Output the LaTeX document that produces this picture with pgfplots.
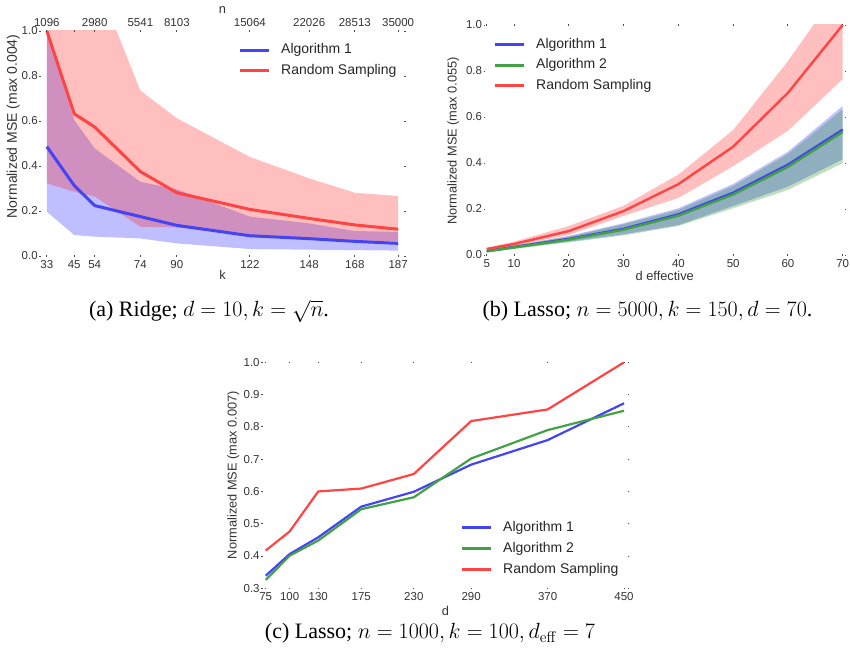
\RequirePackage{fix-cm}
\documentclass[border=0pt]{standalone}
\usepackage[no-math]{fontspec}
\setmainfont{Liberation Serif}
\setsansfont{Liberation Sans}
\usepackage{pgfplots}
\pgfplotsset{compat=1.18}
\definecolor{cR}{RGB}{255,68,68}
\definecolor{cB}{RGB}{68,68,245}
\definecolor{cG}{RGB}{68,160,68}
\pgfplotsset{
  sb/.style={
    scale only axis,
    anchor=south west,
    axis line style={draw=none},
    tick style={draw=black!70, line width=0.9pt},
    major tick length=1.2pt,
    tick align=center,
    tick pos=both,
    xticklabel pos=lower, yticklabel pos=left,
    ticklabel style={font=\fontsize{11.5}{13}\selectfont\sffamily, text=black!80},
    yticklabel style={inner xsep=1.5pt, /pgf/number format/fixed, /pgf/number format/fixed zerofill, /pgf/number format/precision=1},
    /pgf/number format/assume math mode=true,
    label style={font=\fontsize{12.8}{14}\selectfont\sffamily, text=black!80},
    legend cell align=left,
    legend image code/.code={\draw[##1, line width=3pt, line cap=butt] (0pt,0pt) -- (29pt,0pt);},
    legend style={draw=none, fill=none, inner sep=0pt, anchor=north west, font=\fontsize{14}{16}\selectfont\sffamily, text=black!85, row sep=7.2pt, column sep=11pt, nodes={inner sep=0pt, text height=10.5pt, text depth=3pt}},
  }
}
\begin{document}
\begin{tikzpicture}
\path[use as bounding box] (0,0) rectangle (850pt,660pt);
% ---------------- (a)
\begin{axis}[sb, at={(40pt,404pt)}, width=365pt, height=225pt,
  xmin=30, xmax=190, ymin=0, ymax=1,
  xtick={33,45,54,74,90,122,148,168,187}, ytick={0,0.2,0.4,0.6,0.8,1.0},
  xlabel={k}, xlabel style={at={(axis description cs:0.5,-0.0844)}, anchor=center},
  ylabel={Normalized MSE (max 0.004)}, ylabel style={at={(axis description cs:-0.0732,0.576)}, anchor=center, font=\fontsize{14}{16}\selectfont\sffamily},
  legend style={at={(axis description cs:0.5425,0.9456)}}]
\addplot[fill=blue, fill opacity=0.25, draw=none, forget plot] coordinates {
 (33,1.0)(45,0.604)(54,0.478)(74,0.33)(90,0.296)(122,0.175)(148,0.145)(168,0.111)(187,0.107)
 (187,0.024)(168,0.026)(148,0.028)(122,0.031)(90,0.056)(74,0.078)(54,0.086)(45,0.093)(33,0.197)} -- cycle;
\addplot[fill=red, fill opacity=0.25, draw=none, forget plot] coordinates {
 (33,2.0)(45,1.5)(54,1.244)(74,0.735)(90,0.612)(122,0.440)(148,0.345)(168,0.281)(187,0.267)
 (187,0.065)(168,0.07)(148,0.08)(122,0.092)(90,0.127)(74,0.13)(54,0.264)(45,0.286)(33,0.323)} -- cycle;
\addplot[cB, line width=3pt] coordinates {(33,0.486)(45,0.313)(54,0.224)(74,0.175)(90,0.136)(122,0.090)(148,0.077)(168,0.065)(187,0.056)};
\addlegendentry{Algorithm 1}
\addplot[cR, line width=3pt] coordinates {(33,1.0)(45,0.632)(54,0.573)(74,0.375)(90,0.281)(122,0.207)(148,0.167)(168,0.138)(187,0.119)};
\addlegendentry{Random Sampling}
\end{axis}
\begin{axis}[sb, at={(40pt,404pt)}, width=365pt, height=225pt,
  xmin=30, xmax=190, ymin=0, ymax=1,
  xtick={33,45,54,74,90,122,148,168,187},
  xticklabels={1096,,2980,5541,8103,15064,22026,28513,35000},
  xticklabel pos=upper, ytick=\empty,
  xlabel={n}, xlabel style={at={(axis description cs:0.5,1.0933)}, anchor=center}]
\addplot[draw=none] coordinates {(33,0)};
\end{axis}
% ---------------- (b)
\begin{axis}[sb, at={(484.3pt,405pt)}, width=360.8pt, height=230pt,
  xmin=4.56, xmax=70.44, ymin=0, ymax=1,
  xtick={5,10,20,30,40,50,60,70}, ytick={0,0.2,0.4,0.6,0.8,1.0},
  xlabel={d effective}, xlabel style={at={(axis description cs:0.5,-0.0913)}, anchor=center},
  ylabel={Normalized MSE (max 0.055)}, ylabel style={at={(axis description cs:-0.0859,0.496)}, anchor=center},
  legend style={at={(axis description cs:0.024,0.9454)}}]
\addplot[fill=blue, fill opacity=0.25, draw=none, forget plot] coordinates {
 (5,0.022)(10,0.042)(20,0.083)(30,0.138)(40,0.203)(50,0.309)(60,0.449)(70,0.648)
 (70,0.416)(60,0.297)(50,0.213)(40,0.130)(30,0.090)(20,0.058)(10,0.028)(5,0.012)} -- cycle;
\addplot[fill=green!50!black, fill opacity=0.25, draw=none, forget plot] coordinates {
 (5,0.021)(10,0.040)(20,0.080)(30,0.134)(40,0.196)(50,0.300)(60,0.439)(70,0.633)
 (70,0.399)(60,0.283)(50,0.203)(40,0.126)(30,0.085)(20,0.055)(10,0.026)(5,0.011)} -- cycle;
\addplot[fill=red, fill opacity=0.25, draw=none, forget plot] coordinates {
 (5,0.031)(10,0.058)(20,0.126)(30,0.214)(40,0.350)(50,0.543)(60,0.843)(70,1.18)
 (70,0.765)(60,0.540)(50,0.386)(40,0.248)(30,0.170)(20,0.087)(10,0.040)(5,0.020)} -- cycle;
\addplot[cB, line width=2.4pt] coordinates {(5,0.017)(10,0.035)(20,0.070)(30,0.114)(40,0.177)(50,0.271)(60,0.393)(70,0.545)};
\addlegendentry{Algorithm 1}
\addplot[cG, line width=2.4pt] coordinates {(5,0.016)(10,0.033)(20,0.067)(30,0.110)(40,0.171)(50,0.263)(60,0.383)(70,0.535)};
\addlegendentry{Algorithm 2}
\addplot[cR, line width=2.4pt] coordinates {(5,0.026)(10,0.048)(20,0.104)(30,0.191)(40,0.308)(50,0.471)(60,0.705)(70,1.0)};
\addlegendentry{Random Sampling}
\end{axis}
% ---------------- (c)
\begin{axis}[sb, at={(261.9pt,71.7pt)}, width=366.9pt, height=226pt,
  xmin=71, xmax=455, ymin=0.3, ymax=1.0,
  xtick={75,100,130,175,230,290,370,450}, ytick={0.3,0.4,0.5,0.6,0.7,0.8,0.9,1.0},
  xlabel={d}, xlabel style={at={(axis description cs:0.5,-0.1004)}, anchor=center},
  ylabel={Normalized MSE (max 0.007)}, ylabel style={at={(axis description cs:-0.078,0.501)}, anchor=center},
  legend style={at={(axis description cs:0.54,0.298)}}]
\addplot[cB, line width=2.2pt] coordinates {(75,0.339)(100,0.406)(130,0.458)(175,0.553)(230,0.599)(290,0.683)(370,0.759)(450,0.873)};
\addlegendentry{Algorithm 1}
\addplot[cG, line width=2.2pt] coordinates {(75,0.326)(100,0.401)(130,0.448)(175,0.545)(230,0.582)(290,0.702)(370,0.790)(450,0.850)};
\addlegendentry{Algorithm 2}
\addplot[cR, line width=2.2pt] coordinates {(75,0.417)(100,0.476)(130,0.600)(175,0.609)(230,0.654)(290,0.818)(370,0.854)(450,1.0)};
\addlegendentry{Random Sampling}
\end{axis}
% captions
\node[anchor=base, font=\fontsize{22}{24}\selectfont] at (209pt,343pt) {(a)\ Ridge; $d=10, k=\sqrt{n}$.};
\node[anchor=base, font=\fontsize{22}{24}\selectfont] at (647.5pt,343pt) {(b)\ Lasso; $n=5000, k=150, d=70$.};
\node[anchor=base, font=\fontsize{22}{24}\selectfont] at (430pt,21pt) {(c)\ Lasso; $n=1000, k=100, d_{\mathrm{eff}}=7$};
\end{tikzpicture}
\end{document}
